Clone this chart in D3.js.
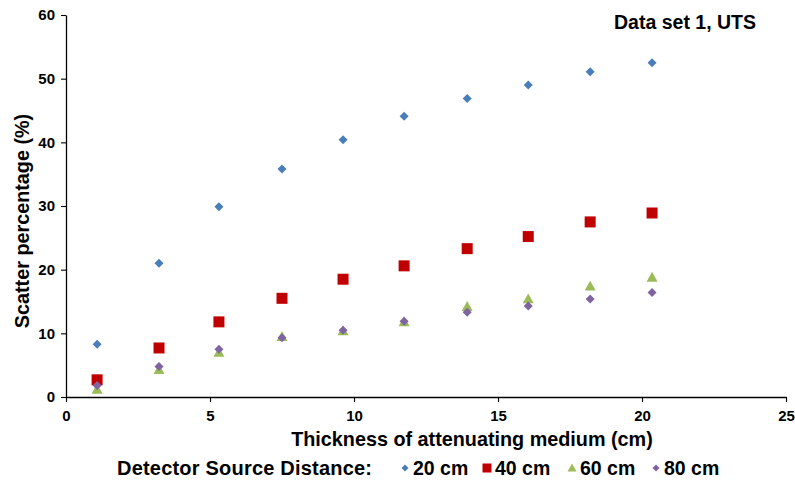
<!DOCTYPE html>
<html><head><meta charset="utf-8">
<script src="https://cdn.jsdelivr.net/npm/d3@7"></script>
<style>
html,body{margin:0;padding:0;background:#fff;}
text{font-family:"Liberation Sans",Arial,sans-serif;font-weight:bold;fill:#000;}
</style></head>
<body>
<svg id="chart" width="795" height="482"></svg>
<script>
const thickness = [1.08, 3.23, 5.31, 7.5, 9.62, 11.74, 13.93, 16.05, 18.2, 20.35];
const dsd20 = [8.3, 21.0, 29.9, 35.8, 40.4, 44.1, 46.9, 49.0, 51.1, 52.5];
const dsd40 = [2.7, 7.7, 11.8, 15.5, 18.5, 20.6, 23.3, 25.2, 27.5, 28.9];
const dsd60 = [1.2, 4.3, 7.0, 9.5, 10.4, 11.8, 14.2, 15.4, 17.4, 18.8];
const dsd80 = [1.8, 4.8, 7.5, 9.3, 10.5, 11.9, 13.3, 14.3, 15.4, 16.4];
const xTicks = [0, 5, 10, 15, 20, 25];
const yTicks = [0, 10, 20, 30, 40, 50, 60];
const seriesNames = ["20 cm", "40 cm", "60 cm", "80 cm"];

const series = [
  {name: seriesNames[0], values: dsd20, color: "#4A7EBB", shape: "diamond", size: 9},
  {name: seriesNames[1], values: dsd40, color: "#C00000", shape: "square", size: 11},
  {name: seriesNames[2], values: dsd60, color: "#9BBB59", shape: "triangle", size: 11},
  {name: seriesNames[3], values: dsd80, color: "#8064A2", shape: "diamond", size: 9}
];

const svg = d3.select("#chart");
const x = d3.scaleLinear().domain([0, 25]).range([66, 786]);
const y = d3.scaleLinear().domain([0, 60]).range([397, 15]);

const xAxis = svg.append("g").attr("transform", "translate(0,397)")
  .call(d3.axisBottom(x).tickValues(xTicks).tickSize(5).tickSizeOuter(0).tickPadding(8));
const yAxis = svg.append("g").attr("transform", "translate(66,0)")
  .call(d3.axisLeft(y).tickValues(yTicks).tickSize(5).tickSizeOuter(0).tickPadding(6));
[xAxis, yAxis].forEach(g => {
  g.select(".domain").attr("stroke", "#000").attr("stroke-width", 1.3);
  g.selectAll(".tick line").attr("stroke", "#000").attr("stroke-width", 1.1);
  g.selectAll(".tick text").style("font-size", "15px").style("font-family", "'Liberation Sans',Arial,sans-serif").style("font-weight", "bold").attr("fill", "#000");
});

function symbolPath(shape, s) {
  const h = s / 2;
  if (shape === "diamond") return `M0,${-h}L${h},0L0,${h}L${-h},0Z`;
  if (shape === "square") return `M${-h},${-h}H${h}V${h}H${-h}Z`;
  return `M0,${-h}L${h},${h * 0.8}L${-h},${h * 0.8}Z`;
}

series.forEach(s => {
  svg.append("g").selectAll("path").data(s.values).join("path")
    .attr("d", symbolPath(s.shape, s.size))
    .attr("transform", (v, i) => `translate(${x(thickness[i])},${y(v)})`)
    .attr("fill", s.color);
});

svg.append("text").attr("x", 756).attr("y", 29).attr("text-anchor", "end")
  .style("font-size", "19.5px").text("Data set 1, UTS");

svg.append("text").attr("x", 472).attr("y", 446).attr("text-anchor", "middle")
  .style("font-size", "19.8px").text("Thickness of attenuating medium (cm)");

svg.append("text").attr("transform", "translate(29,221) rotate(-90)").attr("text-anchor", "middle")
  .style("font-size", "19.8px").text("Scatter percentage (%)");

svg.append("text").attr("x", 117).attr("y", 475).attr("textLength", 255).style("font-size", "20px").text("Detector Source Distance:");
const legX = [405, 487, 572, 656];
series.forEach((s, i) => {
  svg.append("path").attr("d", symbolPath(s.shape, s.shape === "diamond" ? 7 : 9))
    .attr("transform", `translate(${legX[i]},468)`).attr("fill", s.color);
  svg.append("text").attr("x", legX[i] + 8).attr("y", 475).style("font-size", "19.5px").text(s.name);
});
</script>
</body></html>
